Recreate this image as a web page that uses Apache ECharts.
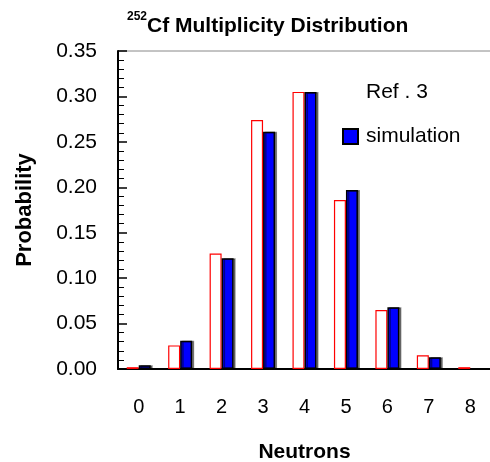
<!DOCTYPE html>
<html>
<head>
<meta charset="utf-8">
<script src="https://cdn.jsdelivr.net/npm/echarts@6/dist/echarts.min.js"></script>
<style>
  html, body { margin: 0; padding: 0; background: #fff; }
  #chart { width: 490px; height: 462px; }
</style>
</head>
<body>
<div id="chart"></div>
<script>
const neutrons = ["0", "1", "2", "3", "4", "5", "6", "7", "8"];
const refValues = [0.002, 0.026, 0.127, 0.274, 0.305, 0.186, 0.065, 0.015, 0.002];
const simValues = [0.004, 0.031, 0.122, 0.261, 0.305, 0.197, 0.068, 0.013, 0];
const yTicks = [0, 0.05, 0.1, 0.15, 0.2, 0.25, 0.3, 0.35];

const FONT = "'Liberation Sans', Arial, sans-serif";

const chart = echarts.init(document.getElementById("chart"), null, { renderer: "canvas" });

const option = {
  animation: false,
  backgroundColor: "#fff",
  title: {
    text: "{sup|252}{main|Cf Multiplicity Distribution}",
    left: 122,
    top: 6,
    textStyle: {
      rich: {
        sup: { fontFamily: FONT, fontSize: 12, fontWeight: "bold", color: "#000", verticalAlign: "top", lineHeight: 26 },
        main: { fontFamily: FONT, fontSize: 21, fontWeight: "bold", color: "#000", verticalAlign: "bottom", lineHeight: 26 },
      },
    },
  },
  legend: {
    orient: "vertical",
    left: 337,
    top: 77,
    itemWidth: 15,
    itemHeight: 15,
    itemGap: 23,
    icon: "rect",
    textStyle: { fontFamily: FONT, fontSize: 21, color: "#000", padding: [0, 0, 0, 3] },
    data: [
      { name: "Ref . 3", itemStyle: { opacity: 0 } },
      { name: "simulation" },
    ],
  },
  grid: {
    left: 118, right: -1, top: 51, bottom: 93,
    outerBoundsMode: "none",
    show: true, borderColor: "#888", borderWidth: 1,
  },
  xAxis: {
    type: "category",
    data: neutrons,
    name: "Neutrons",
    nameLocation: "middle",
    nameGap: 73,
    nameTextStyle: { fontFamily: FONT, fontSize: 21, fontWeight: "bold", color: "#000" },
    axisLine: { lineStyle: { color: "#000", width: 2 } },
    axisTick: { inside: true, length: 7, lineStyle: { color: "#444", width: 1.5 } },
    axisLabel: { fontFamily: FONT, fontSize: 20, color: "#000", margin: 28 },
  },
  yAxis: {
    type: "value",
    min: yTicks[0],
    max: yTicks[yTicks.length - 1],
    interval: 0.05,
    name: "Probability",
    nameLocation: "middle",
    nameGap: 82,
    nameTextStyle: { fontFamily: FONT, fontSize: 22, fontWeight: "bold", color: "#000" },
    axisLine: { show: true, lineStyle: { color: "#000", width: 2 } },
    axisTick: { show: true, inside: true, length: 9, lineStyle: { color: "#000", width: 1.5 } },
    minorTick: { show: true, splitNumber: 5, length: 6, lineStyle: { color: "#000", width: 1 } },
    splitLine: { show: false },
    axisLabel: {
      fontFamily: FONT, fontSize: 21, color: "#000", margin: 21,
      formatter: (v) => v.toFixed(2),
    },
  },
  series: [
    {
      name: "Ref . 3",
      type: "bar",
      data: refValues,
      barWidth: 12,
      barGap: "0%",
      itemStyle: { color: "#fff", borderColor: "#ff0000", borderWidth: 1.2 },
    },
    {
      name: "simulation",
      type: "bar",
      data: simValues,
      barWidth: 12,
      itemStyle: {
        color: "#0000ff",
        borderColor: "#000",
        borderWidth: 1.5,
        shadowColor: "rgba(0,0,0,0.45)",
        shadowOffsetX: 2,
        shadowOffsetY: 0,
        shadowBlur: 0,
      },
    },
  ],
};

chart.setOption(option);
</script>
</body>
</html>
